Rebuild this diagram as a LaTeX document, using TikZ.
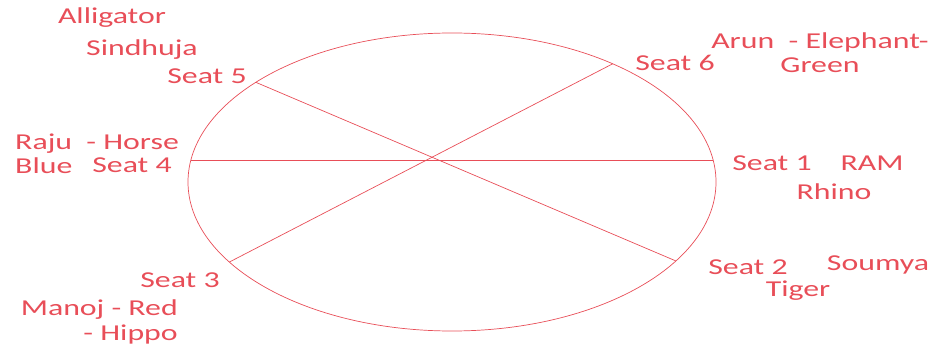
\documentclass[tikz,border=0pt]{standalone}
\usepackage{fontspec}
\setmainfont{Carlito}[FakeStretch=1.4]
\usetikzlibrary{positioning, calc}
\definecolor{seatred}{RGB}{232, 78, 88}

\begin{document}
\begin{tikzpicture}[
        x=0.03cm, y=-0.03cm,
        tag/.style={text=seatred, inner sep=0pt, font=\fontsize{19.4}{20.6}\selectfont},
        chord/.style={draw=seatred, line width=0.6pt}
        ]
        \useasboundingbox (0,0) rectangle (936,347);

        % round table and seat points
        \coordinate (c) at (452,182);
        \draw[chord] (c) ellipse [x radius=264, y radius=149];
        \coordinate (s1) at ($(c)+(-8.5:264 and 149)$);
        \coordinate (s2) at ($(c)+(32:264 and 149)$);
        \coordinate (s3) at ($(c)+(-212.5:264 and 149)$);
        \coordinate (s4) at ($(c)+(-171.5:264 and 149)$);
        \coordinate (s5) at ($(c)+(-138:264 and 149)$);
        \coordinate (s6) at ($(c)+(-52.5:264 and 149)$);

        \draw[chord] (s4) -- (s1);
        \draw[chord] (s5) -- (s2);
        \draw[chord] (s6) -- (s3);

        % seat names
        \node[tag] (seat1) at (772,163) {Seat 1};
        \node[tag] (seat2) at (748,267) {Seat 2};
        \node[tag] (seat3) at (180,280) {Seat 3};
        \node[tag] (seat4) at (132,165) {Seat 4};
        \node[tag] (seat5) at (207,76) {Seat 5};
        \node[tag] (seat6) at (675,63) {Seat 6};

        % people, animals and colours
        \node[tag] (alligator) at (112,18) {Alligator};
        \node[tag] (sindhuja) at (142,50) {Sindhuja};
        \node[tag, align=left, anchor=west] (raju) at (15,154) {Raju~ - Horse\\Blue};
        \node[tag, align=center] (arun) at (820,53) {Arun~ - Elephant-\\Green};
        \node[tag] (ram) at (872,163) {RAM};
        \node[tag] (rhino) at (834,192) {Rhino};
        \node[tag] (soumya) at (878,265) {Soumya};
        \node[tag] (tiger) at (798,291) {Tiger};
        \node[tag, align=right, anchor=east] (manoj) at (178,322) {Manoj - Red\\- Hippo};
    \end{tikzpicture}
\end{document}
